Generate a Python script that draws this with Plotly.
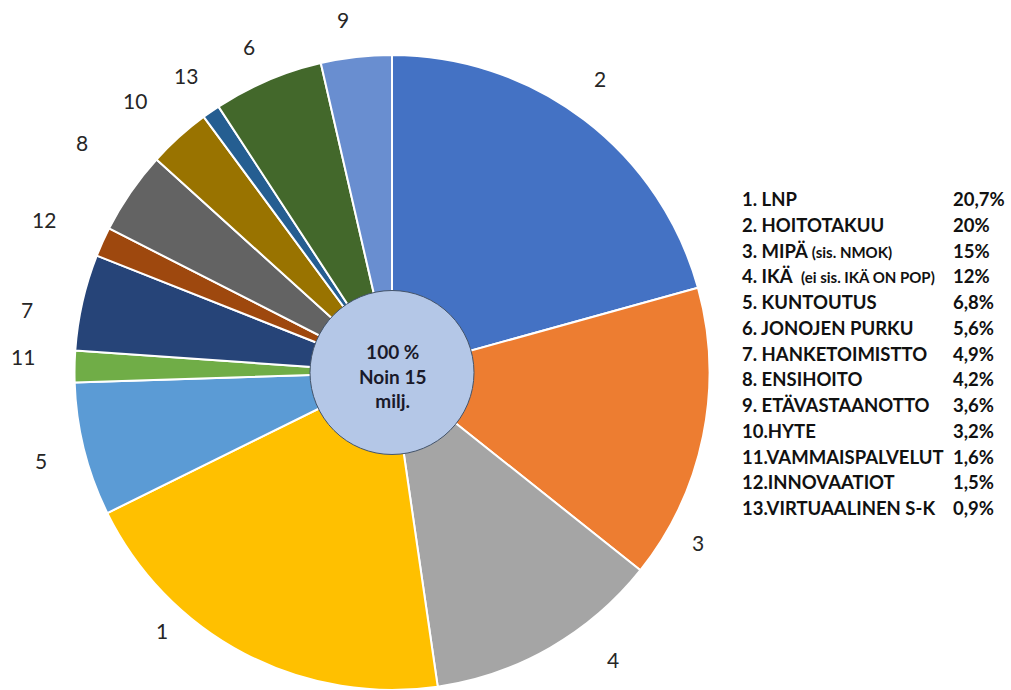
import math
import plotly.graph_objects as go

# ---- data (pie order, clockwise from 12 o'clock) ----
slice_ids = ["2", "3", "4", "1", "5", "11", "7", "12", "8", "10", "13", "6", "9"]
slice_values = [20.7, 15, 12, 20, 6.8, 1.6, 4.9, 1.5, 4.2, 3.2, 0.9, 5.6, 3.6]
slice_colors = ["#4472C4", "#ED7D31", "#A5A5A5", "#FFC000", "#5B9BD5", "#70AD47",
                "#264478", "#9E480E", "#636363", "#997300", "#255E91", "#43682B", "#698ED0"]

legend_names = ["1. LNP", "2. HOITOTAKUU",
                "3. MIPÄ <span style='font-size:15px'>(sis. NMOK)</span>",
                "4. IKÄ  <span style='font-size:15px'>(ei sis. IKÄ ON POP)</span>",
                "5. KUNTOUTUS", "6. JONOJEN PURKU", "7. HANKETOIMISTTO", "8. ENSIHOITO",
                "9. ETÄVASTAANOTTO", "10.HYTE", "11.VAMMAISPALVELUT", "12.INNOVAATIOT",
                "13.VIRTUAALINEN S-K"]
legend_pcts = ["20,7%", "20%", "15%", "12%", "6,8%", "5,6%", "4,9%", "4,2%", "3,6%",
               "3,2%", "1,6%", "1,5%", "0,9%"]
center_text = "100 %<br>Noin 15<br>milj."

# ---- layout constants ----
W, H = 1011, 690
CX, CY, R = 392, 372.5, 317.5
# label placement tweaks (degrees, px) relative to slice mid-angle / base radius
label_angle_nudge = [-2, 17.5, -7.7, 14, 0, 1.4, -3, -0.6, 2, -1.3, 0, -0.7, -1.5]
label_radius = [360, 350, 362, 346, 362, 369, 370, 380, 386, 374, 362, 356, 356]

fig = go.Figure()
fig.add_trace(go.Pie(
    labels=slice_ids, values=slice_values, sort=False, direction="clockwise",
    rotation=0, textinfo="none", hoverinfo="label+value",
    marker=dict(colors=slice_colors, line=dict(color="white", width=2)),
    domain=dict(x=[(CX - R) / W, (CX + R) / W], y=[0, (2 * R) / H]),
    showlegend=False,
))

total = sum(slice_values)
annotations = []
cum = 0
for i, (lab, v) in enumerate(zip(slice_ids, slice_values)):
    mid = (cum + v / 2) / total * 360 + label_angle_nudge[i]
    cum += v
    rr = label_radius[i]
    xp = CX + rr * math.sin(math.radians(mid))
    yp = CY - rr * math.cos(math.radians(mid))
    annotations.append(dict(x=xp / W, y=1 - yp / H, xref="paper", yref="paper",
                            text=lab, showarrow=False, xanchor="center", yanchor="middle",
                            font=dict(family="Lato", size=21, color="#262626")))

# legend text block
y0, y1 = 199, 508
LF = 18.5
for i, (nm, pc) in enumerate(zip(legend_names, legend_pcts)):
    yp = y0 + (y1 - y0) * i / (len(legend_names) - 1)
    annotations.append(dict(x=740 / W, y=1 - yp / H, xref="paper", yref="paper",
                            text="<b>" + nm + "</b>", showarrow=False, xanchor="left",
                            yanchor="middle", font=dict(family="Lato", size=LF, color="#111111")))
    annotations.append(dict(x=951 / W, y=1 - yp / H, xref="paper", yref="paper",
                            text="<b>" + pc + "</b>", showarrow=False, xanchor="left",
                            yanchor="middle", font=dict(family="Lato", size=LF, color="#111111")))

# center label
annotations.append(dict(x=CX / W, y=1 - (CY + 4) / H, xref="paper", yref="paper",
                        text="<b>" + center_text + "</b>", showarrow=False,
                        xanchor="center", yanchor="middle",
                        font=dict(family="Lato", size=19, color="#1a1a2a")))

CR = 82
fig.update_layout(
    width=W, height=H, margin=dict(l=0, r=0, t=0, b=0),
    paper_bgcolor="white", plot_bgcolor="white",
    annotations=annotations,
    shapes=[dict(type="circle", xref="paper", yref="paper", layer="above",
                 x0=(CX - CR) / W, x1=(CX + CR) / W,
                 y0=1 - (CY + CR) / H, y1=1 - (CY - CR) / H,
                 fillcolor="#B4C7E7", line=dict(color="#44546A", width=1))],
)

fig.write_html("out.html")
